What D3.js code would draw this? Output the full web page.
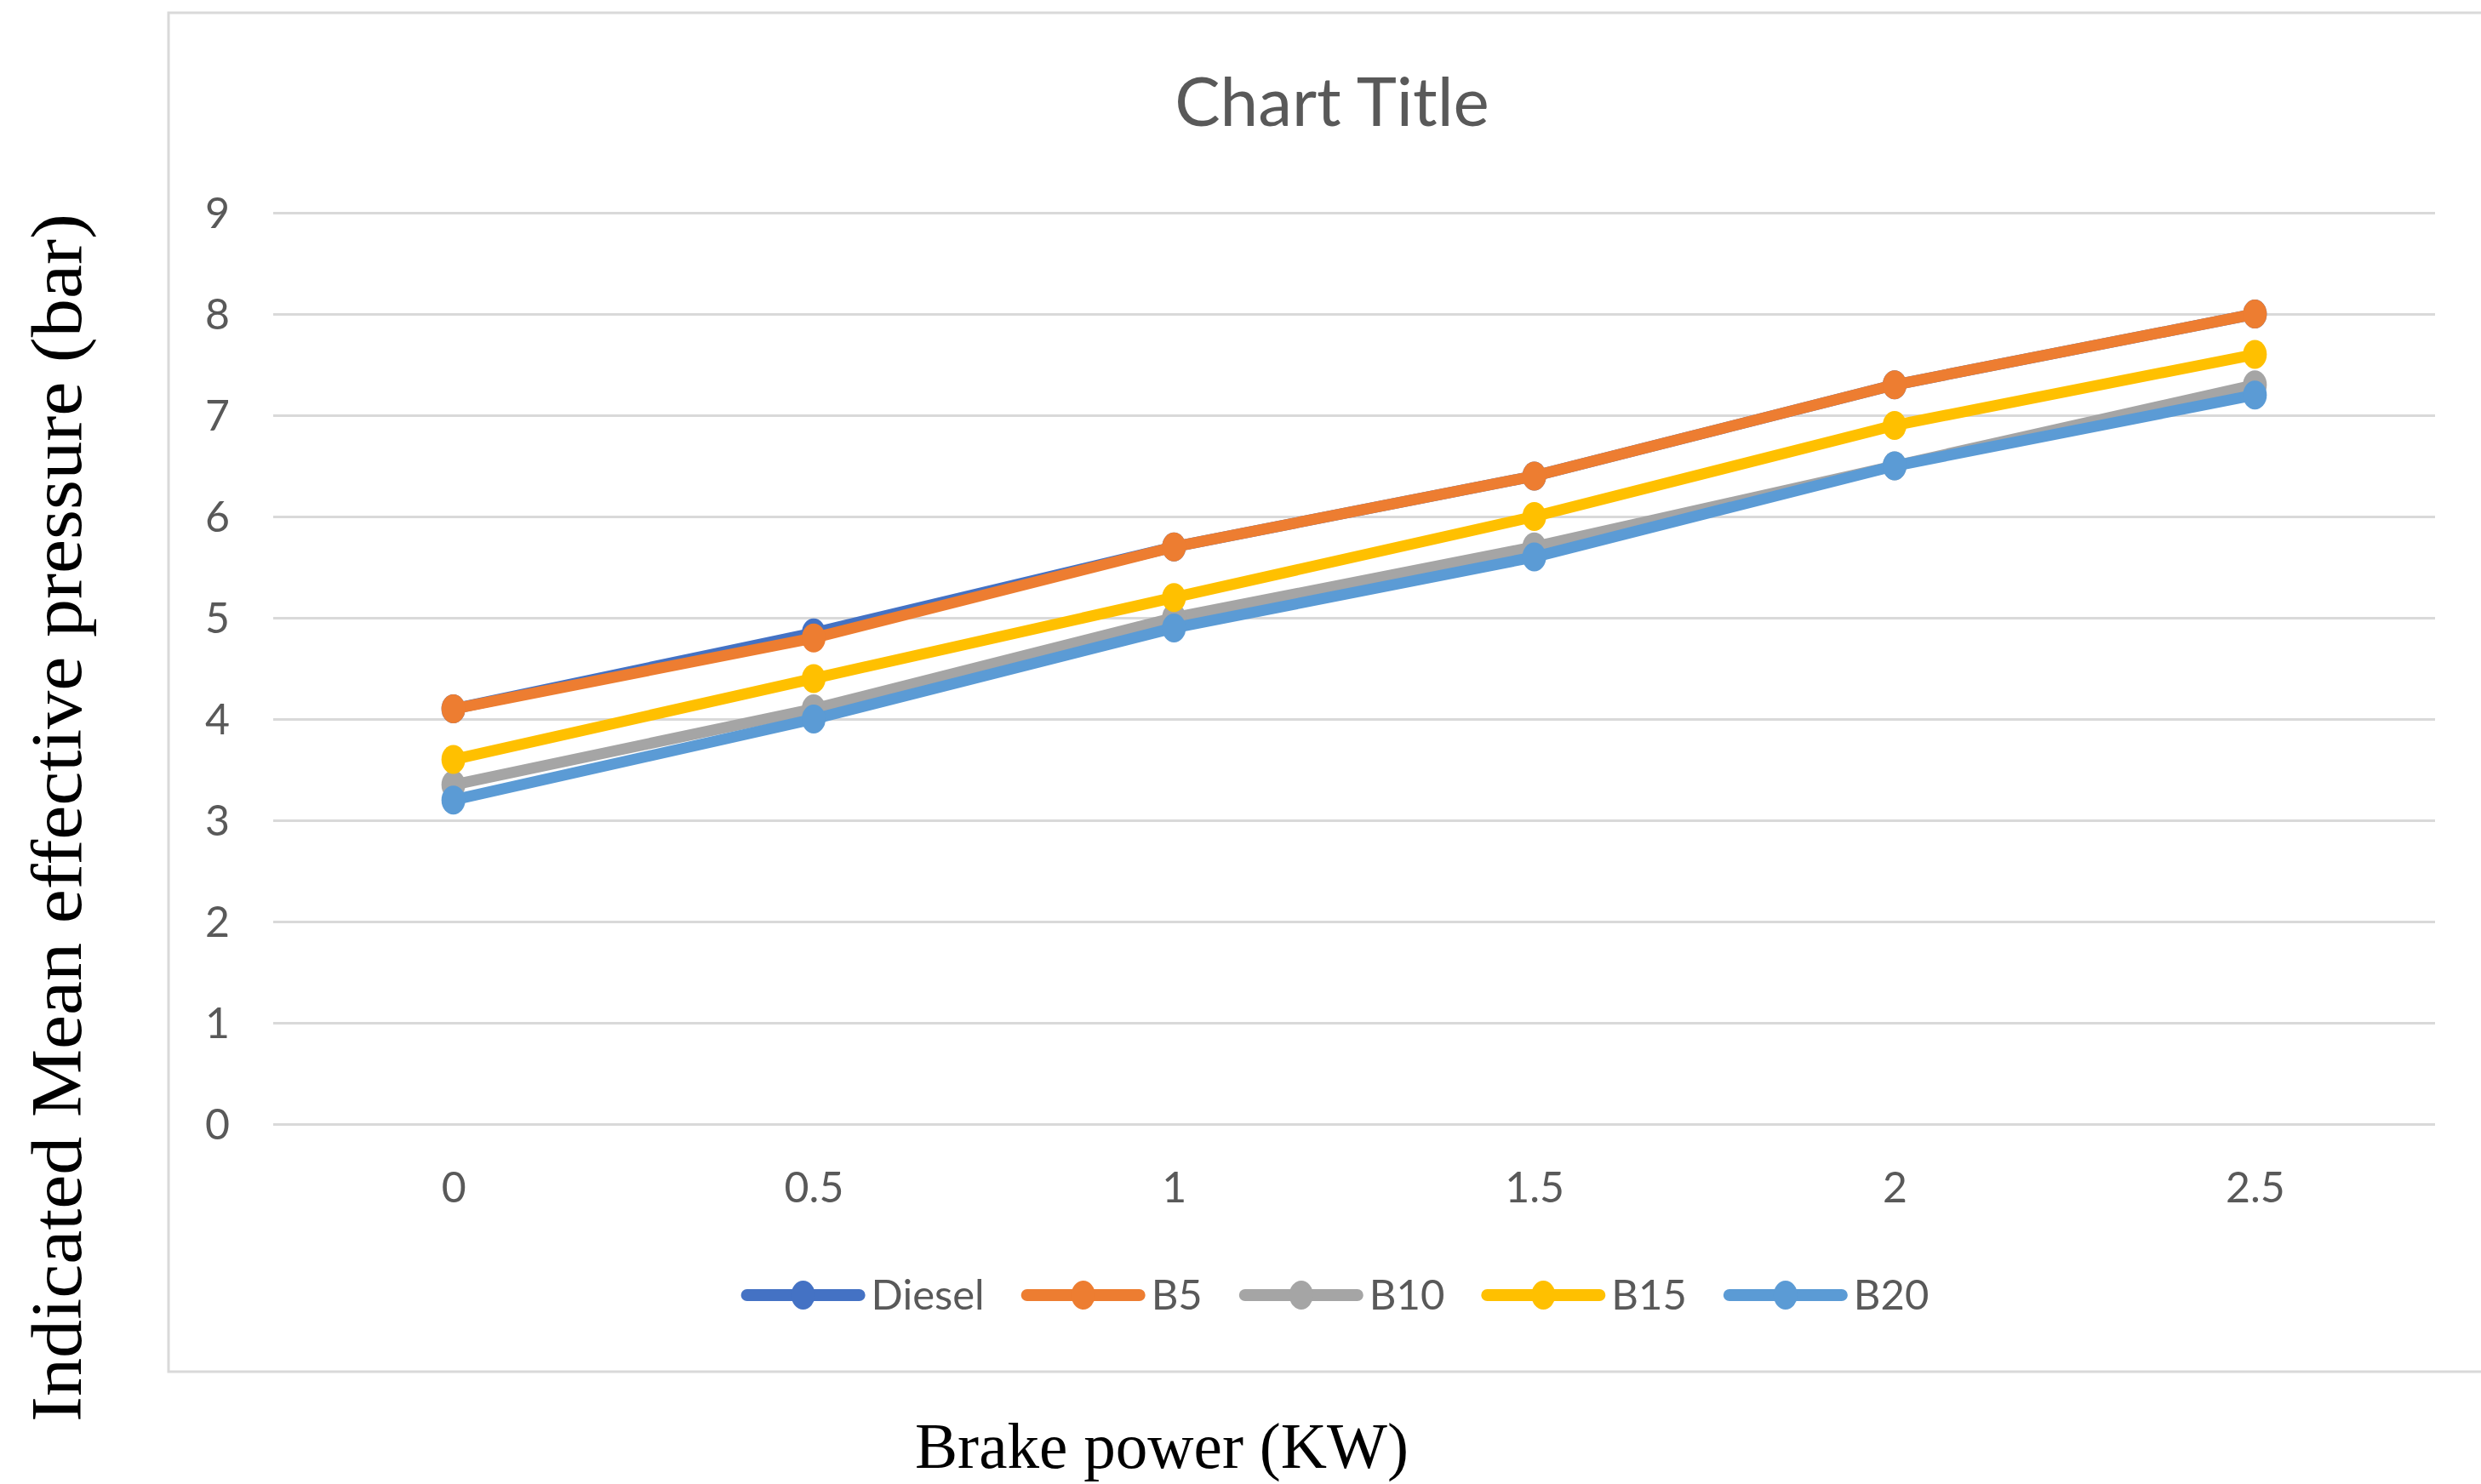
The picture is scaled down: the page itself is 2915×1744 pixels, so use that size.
<!DOCTYPE html>
<html>
<head>
<meta charset="utf-8">
<script src="https://cdn.jsdelivr.net/npm/d3@7"></script>
<style>
  body { margin: 0; background: #fff; }
  svg { display: block; }
</style>
</head>
<body>
<svg id="chart"></svg>
<script>
var w = 2915;
var h = 1744;

// data
let power = ["0", "0.5", "1", "1.5", "2", "2.5"];
let seriesNames = ["Diesel", "B5", "B10", "B15", "B20"];
let diesel = [4.1, 4.85, 5.7, 6.4, 7.3, 8.0];
let b5 = [4.1, 4.8, 5.7, 6.4, 7.3, 8.0];
let b10 = [3.35, 4.1, 5.0, 5.7, 6.5, 7.3];
let b15 = [3.6, 4.4, 5.2, 6.0, 6.9, 7.6];
let b20 = [3.2, 4.0, 4.9, 5.6, 6.5, 7.2];
let yTicks = [0, 1, 2, 3, 4, 5, 6, 7, 8, 9];
let colors = ["#4472C4", "#ED7D31", "#A5A5A5", "#FFC000", "#5B9BD5"];

let series = [diesel, b5, b10, b15, b20].map((vals, i) => ({
    name: seriesNames[i],
    color: colors[i],
    values: vals.map((v, j) => ({ x: power[j], y: v }))
}));

// plot area bounds
var plotLeft = 321, plotRight = 2861, plotTop = 250, plotBottom = 1321;

var svg = d3.select("#chart")
    .attr("width", w)
    .attr("height", h);

// chart area frame
svg.append("rect")
    .attr("x", 198)
    .attr("y", 15)
    .attr("width", 2800)
    .attr("height", 1597)
    .attr("fill", "#fff")
    .attr("stroke", "#D9D9D9")
    .attr("stroke-width", 3);

var x = d3.scalePoint()
    .domain(power)
    .range([plotLeft, plotRight])
    .padding(0.5);

var y = d3.scaleLinear()
    .domain([0, 9])
    .range([plotBottom, plotTop]);

// y axis + gridlines
var yAxis = svg.append("g")
    .attr("transform", `translate(${plotLeft},0)`)
    .call(d3.axisLeft(y).tickValues(yTicks).tickSize(-(plotRight - plotLeft)).tickPadding(51));
yAxis.select(".domain").remove();
yAxis.selectAll("line")
    .attr("stroke", "#D9D9D9")
    .attr("stroke-width", 3);
yAxis.selectAll("text")
    .attr("fill", "#595959")
    .attr("dy", "0.35em")
    .style("font-family", "Lato, sans-serif")
    .style("font-size", "50px");

// x axis labels
var xAxis = svg.append("g")
    .attr("transform", `translate(0,${plotBottom})`)
    .call(d3.axisBottom(x).tickSize(0).tickPadding(56));
xAxis.select(".domain").remove();
xAxis.selectAll("text")
    .attr("fill", "#595959")
    .style("font-family", "Lato, sans-serif")
    .style("font-size", "50px");

// lines
var line = d3.line()
    .x(d => x(d.x))
    .y(d => y(d.y));

var groups = svg.selectAll(".series")
    .data(series)
    .enter()
    .append("g")
    .attr("class", "series");

groups.append("path")
    .attr("d", d => line(d.values))
    .attr("fill", "none")
    .attr("stroke", d => d.color)
    .attr("stroke-width", 13)
    .attr("stroke-linejoin", "round")
    .attr("stroke-linecap", "round");

groups.selectAll("ellipse")
    .data(d => d.values.map(v => ({ x: v.x, y: v.y, color: d.color })))
    .enter()
    .append("ellipse")
    .attr("cx", d => x(d.x))
    .attr("cy", d => y(d.y))
    .attr("rx", 14)
    .attr("ry", 17)
    .attr("fill", d => d.color);

// title
svg.append("text")
    .attr("x", 1565)
    .attr("y", 148)
    .attr("text-anchor", "middle")
    .attr("fill", "#595959")
    .style("font-family", "Lato, sans-serif")
    .style("font-size", "80px")
    .text("Chart Title");

// legend
var legend = svg.append("g");
var lx = 0;
var gap = 50;
series.forEach(s => {
    let item = legend.append("g").attr("transform", `translate(${lx},0)`);
    item.append("line")
        .attr("x1", 0).attr("x2", 132)
        .attr("y1", 0).attr("y2", 0)
        .attr("stroke", s.color)
        .attr("stroke-width", 14)
        .attr("stroke-linecap", "round");
    item.append("ellipse")
        .attr("cx", 66).attr("cy", 0)
        .attr("rx", 14).attr("ry", 17)
        .attr("fill", s.color);
    let t = item.append("text")
        .attr("x", 146)
        .attr("y", 0)
        .attr("dy", "0.35em")
        .attr("fill", "#595959")
        .style("font-family", "Lato, sans-serif")
        .style("font-size", "49px")
        .text(s.name);
    lx += 146 + t.node().getComputedTextLength() + gap;
});
lx -= gap;
legend.attr("transform", `translate(${1572 - lx / 2},1522)`);

// axis titles
svg.append("text")
    .attr("transform", "translate(95,961) rotate(-90)")
    .attr("text-anchor", "middle")
    .attr("fill", "#000")
    .attr("textLength", 1420)
    .attr("lengthAdjust", "spacingAndGlyphs")
    .style("font-family", "'Liberation Serif', serif")
    .style("font-size", "84px")
    .text("Indicated Mean effective pressure (bar)");

svg.append("text")
    .attr("x", 1365)
    .attr("y", 1725)
    .attr("text-anchor", "middle")
    .attr("fill", "#000")
    .attr("textLength", 580)
    .attr("lengthAdjust", "spacingAndGlyphs")
    .style("font-family", "'Liberation Serif', serif")
    .style("font-size", "76px")
    .text("Brake power (KW)");
</script>
</body>
</html>
